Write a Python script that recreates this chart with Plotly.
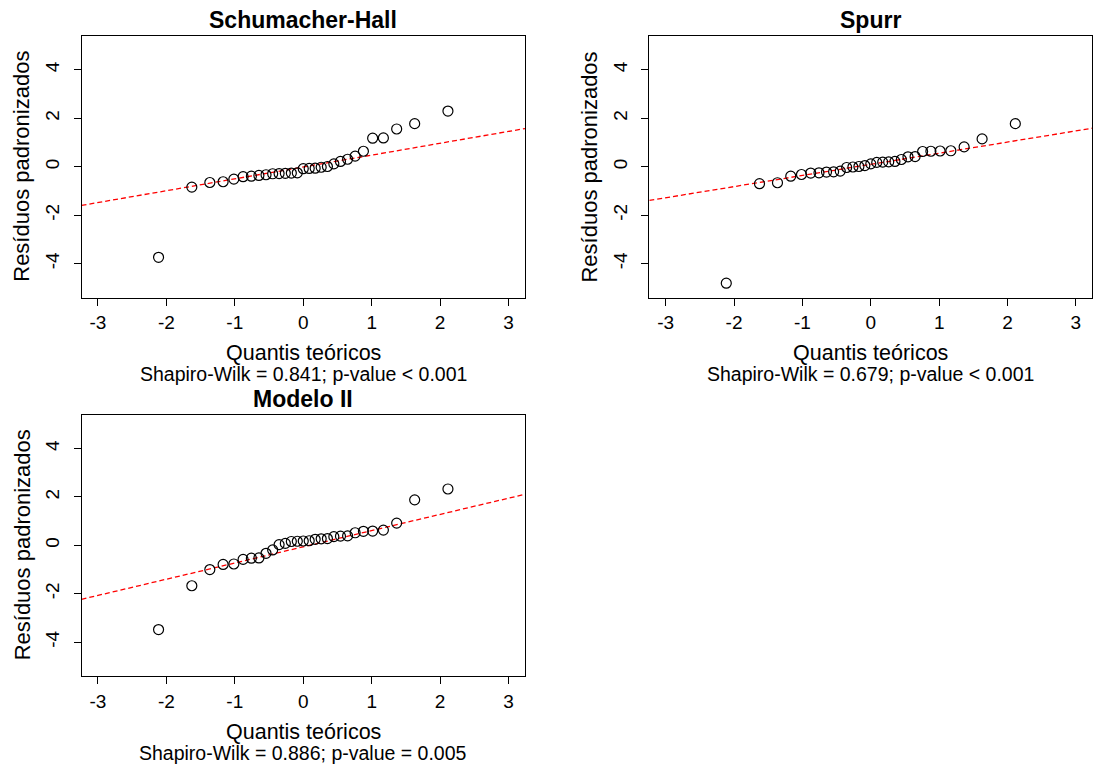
import plotly.graph_objects as go

# Theoretical normal quantiles (n = 29)
quantis = [-2.114, -1.628, -1.365, -1.171, -1.014, -0.879, -0.758, -0.648, -0.544,
           -0.447, -0.353, -0.262, -0.174, -0.087, 0.0, 0.087, 0.174, 0.262, 0.353,
           0.447, 0.544, 0.648, 0.758, 0.879, 1.014, 1.171, 1.365, 1.628, 2.114]

# Standardized residuals per model (sorted)
res_schumacher = [-3.74, -0.84, -0.65, -0.62, -0.51, -0.41, -0.39, -0.36, -0.33,
                  -0.29, -0.28, -0.27, -0.26, -0.25, -0.08, -0.07, -0.06, -0.02, 0.01,
                  0.12, 0.22, 0.31, 0.44, 0.64, 1.18, 1.19, 1.56, 1.78, 2.30]
res_spurr = [-4.81, -0.70, -0.66, -0.39, -0.32, -0.26, -0.25, -0.22, -0.21,
             -0.18, -0.03, -0.01, 0.01, 0.05, 0.12, 0.18, 0.19, 0.20, 0.22,
             0.30, 0.41, 0.42, 0.63, 0.64, 0.65, 0.66, 0.82, 1.15, 1.78]
res_modelo2 = [-3.48, -1.67, -1.00, -0.79, -0.77, -0.58, -0.53, -0.52, -0.33,
               -0.19, 0.03, 0.08, 0.16, 0.17, 0.18, 0.19, 0.25, 0.27, 0.28,
               0.36, 0.38, 0.39, 0.52, 0.58, 0.59, 0.63, 0.92, 1.88, 2.33]

# qqline parameters (intercept, slope)
linha_schumacher = (-0.01, 0.49)
linha_spurr = (0.10, 0.46)
linha_modelo2 = (-0.06, 0.67)

titulos = ["Schumacher-Hall", "Spurr", "Modelo II"]
subtitulos = ["Shapiro-Wilk = 0.841; p-value < 0.001",
              "Shapiro-Wilk = 0.679; p-value < 0.001",
              "Shapiro-Wilk = 0.886; p-value = 0.005"]
x_ticks = [-3, -2, -1, 0, 1, 2, 3]
x_ticktext = ["-3", "-2", "-1", "0", "1", "2", "3"]
y_ticks = [-4, -2, 0, 2, 4]
y_ticktext = ["-4", "-2", "0", "2", "4"]

W, H = 1094, 765
FONT = "Liberation Sans, Arial, sans-serif"
XR = [-3.24, 3.24]
YR = [-5.4, 5.4]

# panel boxes in pixels: (left, right, top, bottom)
boxes = [(81.5, 525.0, 36.0, 297.5), (649.3, 1092.3, 36.0, 297.5), (81.5, 525.0, 414.7, 676.0)]

fig = go.Figure()
series = [res_schumacher, res_spurr, res_modelo2]
lines = [linha_schumacher, linha_spurr, linha_modelo2]
annotations = []

for i, (res, (b0, b1), box) in enumerate(zip(series, lines, boxes)):
    xa = "x" if i == 0 else f"x{i+1}"
    ya = "y" if i == 0 else f"y{i+1}"
    fig.add_trace(go.Scatter(
        x=XR, y=[b0 + b1 * XR[0], b0 + b1 * XR[1]], mode="lines",
        line=dict(color="red", width=1.3, dash="5px,3px"),
        xaxis=xa, yaxis=ya, showlegend=False, hoverinfo="skip"))
    fig.add_trace(go.Scatter(
        x=quantis, y=res, mode="markers",
        marker=dict(symbol="circle-open", size=10, color="black", line=dict(width=1.2)),
        xaxis=xa, yaxis=ya, showlegend=False))

    left, right, top, bottom = box
    dx = [left / W, right / W]
    dy = [1 - bottom / H, 1 - top / H]
    axkey = "xaxis" if i == 0 else f"xaxis{i+1}"
    aykey = "yaxis" if i == 0 else f"yaxis{i+1}"
    common = dict(showline=True, linecolor="black", linewidth=1, mirror=True,
                  ticks="outside", ticklen=7, tickcolor="black", tickwidth=1,
                  showgrid=False, zeroline=False,
                  tickfont=dict(family=FONT, size=19, color="black"))
    fig.update_layout(**{
        axkey: dict(domain=dx, range=XR, tickvals=x_ticks, ticktext=x_ticktext,
                    anchor=ya, ticklabelstandoff=1, **common),
        aykey: dict(domain=dy, range=YR, tickvals=y_ticks, ticktext=y_ticktext,
                    anchor=xa, tickangle=-90, ticklabelstandoff=7, **common),
    })

    cx = (left + right) / 2 / W
    annotations.append(dict(text=f"<b>{titulos[i]}</b>", x=cx, y=1 - (top - 16) / H,
                            xref="paper", yref="paper", showarrow=False,
                            xanchor="center", yanchor="middle",
                            font=dict(family=FONT, size=23, color="black")))
    annotations.append(dict(text="Quantis teóricos", x=cx, y=1 - (top + 317) / H,
                            xref="paper", yref="paper", showarrow=False,
                            xanchor="center", yanchor="middle",
                            font=dict(family=FONT, size=21.5, color="black")))
    annotations.append(dict(text=subtitulos[i], x=cx, y=1 - (top + 338) / H,
                            xref="paper", yref="paper", showarrow=False,
                            xanchor="center", yanchor="middle",
                            font=dict(family=FONT, size=19.5, color="black")))
    annotations.append(dict(text="Resíduos padronizados", x=(left - 59.5) / W,
                            y=1 - (top + bottom) / 2 / H,
                            xref="paper", yref="paper", showarrow=False, textangle=-90,
                            xanchor="center", yanchor="middle",
                            font=dict(family=FONT, size=22, color="black")))

fig.update_layout(width=W, height=H, margin=dict(l=0, r=0, t=0, b=0),
                  paper_bgcolor="white", plot_bgcolor="white",
                  annotations=annotations, showlegend=False)

fig.write_html("out.html")
